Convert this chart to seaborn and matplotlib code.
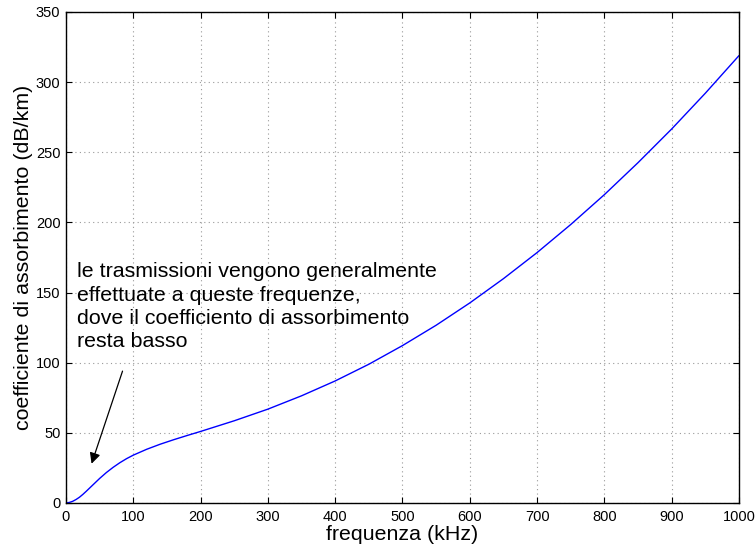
import pandas as pd
import matplotlib
matplotlib.use("Agg")
import matplotlib.pyplot as plt
import seaborn as sns

# values
FREQ_KHZ = [0, 5, 10, 15, 20, 25, 30, 40, 50, 60, 70, 80, 90, 100,
            120, 140, 160, 180, 200, 250, 300, 350, 400, 450, 500,
            550, 600, 650, 700, 750, 800, 850, 900, 950, 1000]
ASSORB_DB_KM = [0.0, 0.4, 1.2, 2.5, 4.1, 6.1, 8.3, 12.9, 17.5, 21.7, 25.4, 28.7, 31.6, 34.1,
                38.3, 41.9, 45.1, 48.1, 51.0, 58.6, 66.9, 76.4, 87.0, 98.9, 112.2,
                126.7, 142.6, 159.9, 178.5, 198.5, 219.8, 242.6, 266.6, 292.1, 318.9]

X_TICKS = list(range(0, 1001, 100))
Y_TICKS = list(range(0, 351, 50))

NOTE = ("le trasmissioni vengono generalmente\n"
        "effettuate a queste frequenze,\n"
        "dove il coefficiento di assorbimento\n"
        "resta basso")

sns.set_style("ticks")
plt.rcParams["font.family"] = ["Liberation Sans", "DejaVu Sans"]
plt.rcParams["text.color"] = "black"
plt.rcParams["axes.labelcolor"] = "black"
plt.rcParams["xtick.color"] = "black"
plt.rcParams["ytick.color"] = "black"

df = pd.DataFrame({"f": FREQ_KHZ, "a": ASSORB_DB_KM})

fig = plt.figure(figsize=(7.56, 5.52), dpi=100)
ax = fig.add_axes([0.0873, 0.0888, 0.8902, 0.8895])

sns.lineplot(data=df, x="f", y="a", ax=ax, color="#0000ff", linewidth=1.0)

ax.set_xlim(0, 1000)
ax.set_ylim(0, 350)
ax.set_xticks(X_TICKS)
ax.set_yticks(Y_TICKS)
ax.tick_params(direction="in", length=4, width=0.8, labelsize=10.5,
               top=True, right=True)
ax.tick_params(axis="x", pad=5)
ax.tick_params(axis="y", pad=4)
ax.grid(True, linestyle=(0, (1, 3)), color="#999999", linewidth=0.8)
for s in ax.spines.values():
    s.set_visible(True)
    s.set_linewidth(1.0)
    s.set_color("black")

ax.set_xlabel("frequenza (kHz)", fontsize=15.4, labelpad=1)
ax.set_ylabel("coefficiente di assorbimento (dB/km)", fontsize=15.4, labelpad=2)

ax.text(16, 171.5, NOTE, fontsize=15.4, va="top", ha="left", linespacing=1.28)
ax.annotate("", xy=(38, 28), xytext=(84, 94),
            arrowprops=dict(arrowstyle="-|>", color="black", lw=0.9,
                            mutation_scale=16, shrinkA=0, shrinkB=0))

fig.savefig("out.png", dpi=100)
